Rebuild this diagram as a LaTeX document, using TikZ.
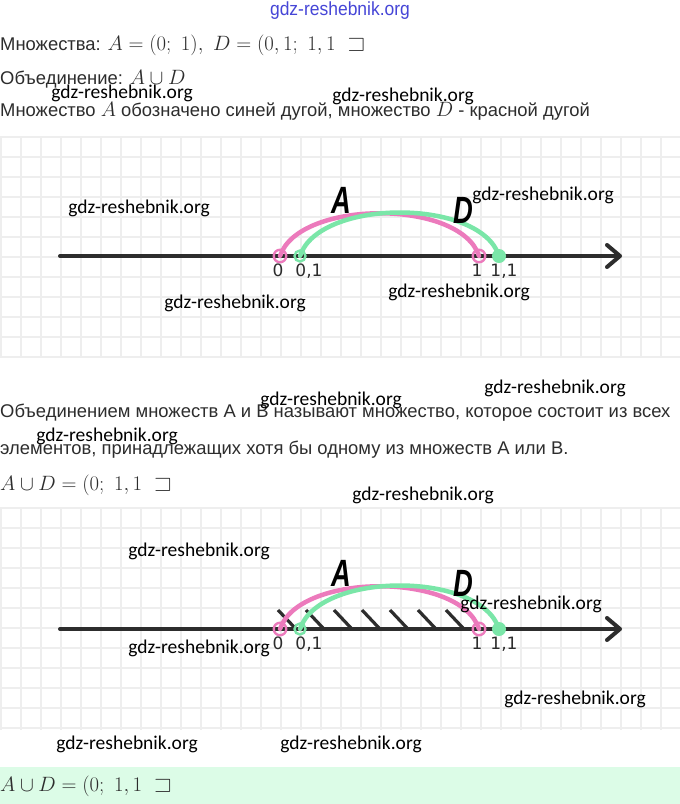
\documentclass[tikz,border=0pt]{standalone}
\usepackage[no-math]{fontspec}
\usepackage{amssymb}
\usepackage{graphicx}
\setmainfont{Liberation Sans}
\newfontfamily\wmfont{Carlito}
\newfontfamily\labfont{DejaVu Sans}
\newfontfamily\setfont{Liberation Sans}
\definecolor{pinkc}{RGB}{236,122,188}
\definecolor{greenc}{RGB}{122,230,168}
\definecolor{txtc}{RGB}{45,45,45}
\definecolor{gridc}{RGB}{238,238,238}
\definecolor{mintc}{RGB}{220,252,231}
\definecolor{bluewm}{RGB}{70,70,215}
\newcommand\tx{\fontsize{18.4}{22}\selectfont}
\newcommand\mx{\fontsize{22.5}{25}\selectfont}
\newcommand\cond[1]{\scalebox{0.72}[1]{#1}}
\tikzset{
  txt/.style={anchor=base west, inner sep=0pt, text=txtc},
  wm/.style={inner sep=0pt, font=\wmfont\fontsize{19.5}{22}\selectfont, text=black},
  gridl/.style={draw=gridc, line width=1.2pt},
  axisl/.style={line width=4pt, draw=txtc, line cap=round, line join=round},
  hatchl/.style={line width=3.2pt, draw=txtc},
  pinkarc/.style={line width=4.5pt, draw=pinkc, line cap=round},
  greenarc/.style={line width=4.5pt, draw=greenc, line cap=round},
  pinko/.style={circle, draw=pinkc, line width=2.4pt, minimum size=12.5pt, inner sep=0pt},
  greeno/.style={circle, draw=greenc, line width=2.4pt, minimum size=11pt, inner sep=0pt},
  greenf/.style={circle, fill=greenc, minimum size=14pt, inner sep=0pt},
  numlab/.style={anchor=base, inner sep=0pt, font=\labfont\fontsize{17}{20}\selectfont, text=txtc},
  setlab/.style={inner sep=0pt, font=\setfont\bfseries\itshape\fontsize{38}{40}\selectfont, text=black}
}
\begin{document}
\begin{tikzpicture}[x=1pt,y=-1pt]
\useasboundingbox (0,0) rectangle (680,804);
\fill[white] (0,0) rectangle (680,804);
\fill[mintc] (0,767) rectangle (680,804);

% grids
\foreach \ya/\yb in {137/358, 508/730} {
  \foreach \k in {0,...,34} { \draw[gridl] (1+20*\k,\ya) -- (1+20*\k,\yb); }
  \foreach \k in {0,...,11} {
    \pgfmathsetmacro\yy{\ya+20*\k}
    \pgfmathparse{\yy<=\yb ? 1 : 0}
    \ifnum\pgfmathresult=1 \draw[gridl] (0,\yy) -- (680,\yy); \fi
  }
}

% texts
\node[txt] (l1) at (0,50) {\tx Множества: \mx$A=(0;\ 1),\ D=(0,1;\ 1,1\ \sqsupset$};
\node[txt] (l2) at (0,84) {\tx Объединение: \mx$A\cup D$};
\node[txt] (l3) at (0,116) {\tx Множество \mx$A$\tx{} обозначено синей дугой, множество \mx$D$\tx{} - красной дугой};
\node[txt] (l4) at (0,417) {\tx Объединением множеств А и В называют множество, которое состоит из всех};
\node[txt] (l5) at (0,454) {\tx элементов, принадлежащих хотя бы одному из множеств А или В.};
\node[txt] (l6) at (0,490) {\mx$A\cup D=(0;\ 1,1\ \sqsupset$};
\node[txt] (l7) at (0,791) {\mx$A\cup D=(0;\ 1,1\ \sqsupset$};

% number lines
\foreach \i/\oy in {1/256, 2/629} {
  \draw[axisl] (60,\oy) -- (619,\oy);
  \draw[axisl] (607,\oy-11) -- (620,\oy) -- (607,\oy+11);
  \ifnum\i=2
    \foreach \hx in {278,306,334,362,390,418,446} {
      \draw[hatchl] (\hx,\oy-19) -- (\hx+17,\oy-1);
    }
  \fi
  \coordinate (p0-\i) at (280,\oy);
  \coordinate (p01-\i) at (300,\oy);
  \coordinate (p1-\i) at (479,\oy);
  \coordinate (p11-\i) at (499,\oy);
  \draw[pinkarc] (p0-\i) .. controls (299,\oy-57) and (461,\oy-57) .. (p1-\i);
  \draw[greenarc] (p01-\i) .. controls (319,\oy-58) and (481,\oy-58) .. (p11-\i);
  \node[pinko] (c0-\i) at (p0-\i) {};
  \node[greeno] (c01-\i) at (p01-\i) {};
  \node[pinko] (c1-\i) at (p1-\i) {};
  \node[greenf] (c11-\i) at (p11-\i) {};
  \node[numlab] (n0-\i) at (278,\oy+20) {0};
  \node[numlab] (n01-\i) at (309,\oy+20) {0,1};
  \node[numlab] (n1-\i) at (477,\oy+20) {1};
  \node[numlab] (n11-\i) at (504,\oy+20) {1,1};
  \node[setlab] (la-\i) at (341,\oy-56) {\cond{A}};
  \node[setlab] (ld-\i) at (463,\oy-46) {\cond{D}};
}

% watermarks
\node[inner sep=0pt, text=bluewm] (wm0) at (340,11) {\scalebox{0.92}[1]{\fontsize{19}{22}\selectfont gdz-reshebnik.org}};
\node[wm] (wm1) at (122,93) {gdz-reshebnik.org};
\node[wm] (wm2) at (403,96) {gdz-reshebnik.org};
\node[wm] (wm3) at (139,208) {gdz-reshebnik.org};
\node[wm] (wm4) at (543,195) {gdz-reshebnik.org};
\node[wm] (wm5) at (235,303) {gdz-reshebnik.org};
\node[wm] (wm6) at (459,292) {gdz-reshebnik.org};
\node[wm] (wm7) at (555,388) {gdz-reshebnik.org};
\node[wm] (wm8) at (331,400) {gdz-reshebnik.org};
\node[wm] (wm9) at (107,436) {gdz-reshebnik.org};
\node[wm] (wm10) at (423,495) {gdz-reshebnik.org};
\node[wm] (wm11) at (199,551) {gdz-reshebnik.org};
\node[wm] (wm12) at (531,604) {gdz-reshebnik.org};
\node[wm] (wm13) at (199,648) {gdz-reshebnik.org};
\node[wm] (wm14) at (575,699) {gdz-reshebnik.org};
\node[wm] (wm15) at (127,744) {gdz-reshebnik.org};
\node[wm] (wm16) at (351,744) {gdz-reshebnik.org};
\end{tikzpicture}
\end{document}
